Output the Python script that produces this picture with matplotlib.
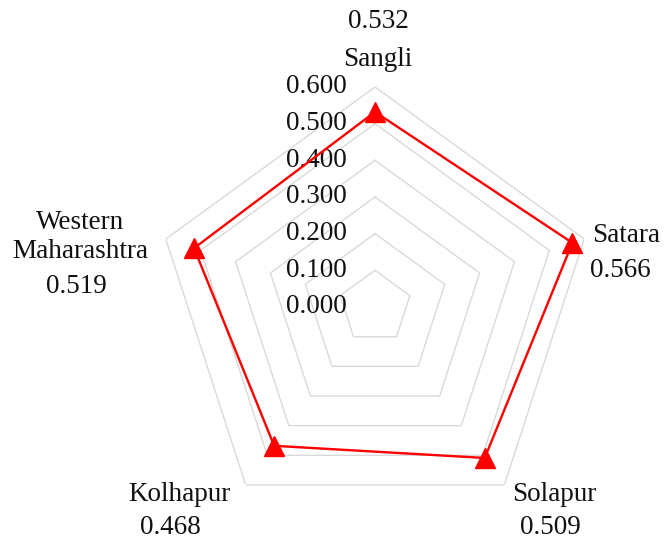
import numpy as np
import matplotlib
matplotlib.use('Agg')
import matplotlib.pyplot as plt

plt.rcParams['font.family'] = ['Liberation Serif', 'DejaVu Serif']

# Index values per district
districts = ['Sangli', 'Satara', 'Solapur', 'Kolhapur', 'Western\nMaharashtra']
values = [0.532, 0.566, 0.509, 0.468, 0.519]
value_labels = ['0.532', '0.566', '0.509', '0.468', '0.519']
levels = [0.1, 0.2, 0.3, 0.4, 0.5, 0.6]
level_labels = ['0.000', '0.100', '0.200', '0.300', '0.400', '0.500', '0.600']

n = len(districts)
angles = np.linspace(0, 2 * np.pi, n, endpoint=False)
closed_angles = np.append(angles, angles[0])

fig = plt.figure(figsize=(6.65, 5.39), dpi=100)
ax = fig.add_axes([0.2331, 0.0223, 0.6617, 0.8163], projection='polar')
ax.set_theta_offset(np.pi / 2)
ax.set_theta_direction(-1)
ax.set_ylim(0, 0.6)
ax.grid(False)
ax.spines['polar'].set_visible(False)
ax.set_xticks([])
ax.set_yticks([])

fs = 19.5
txt_color = '#111111'

# pentagon gridlines
for lv in levels:
    ax.plot(closed_angles, [lv] * (n + 1), color='#d9d9d9', lw=1.0, zorder=1)

# radial axis labels
for i, lab in enumerate(level_labels):
    ax.annotate(lab, xy=(0, i * 0.1), xytext=(-28, 0), textcoords='offset pixels',
                ha='right', va='center', fontsize=fs, color=txt_color, zorder=2,
                annotation_clip=False)

# data series
vals = values + values[:1]
ax.plot(closed_angles, vals, color='#ff0000', lw=1.7, zorder=3, clip_on=False)
ax.plot(angles, values, linestyle='none', marker='^', markersize=14,
        color='#ff0000', zorder=4, clip_on=False)

# category and value labels around the outer ring
name_off = [(3, 27, 'center'), (8, 4, 'left'), (50, -10, 'center'),
            (-66, -10, 'center'), (-86, 2, 'center')]
val_off = [(3, 65, 'center'), (6, -31, 'left'), (46, -43, 'center'),
           (-75, -43, 'center'), (-89, -47, 'center')]
for a, name, vl, no, vo in zip(angles, districts, value_labels, name_off, val_off):
    ax.annotate(name, xy=(a, 0.6), xytext=no[:2], textcoords='offset pixels',
                ha=no[2], va='center', multialignment='center', fontsize=fs,
                color=txt_color, linespacing=1.22, annotation_clip=False)
    ax.annotate(vl, xy=(a, 0.6), xytext=vo[:2], textcoords='offset pixels',
                ha=vo[2], va='center', fontsize=fs, color=txt_color,
                annotation_clip=False)

fig.savefig('out.png', dpi=100, facecolor='white')
